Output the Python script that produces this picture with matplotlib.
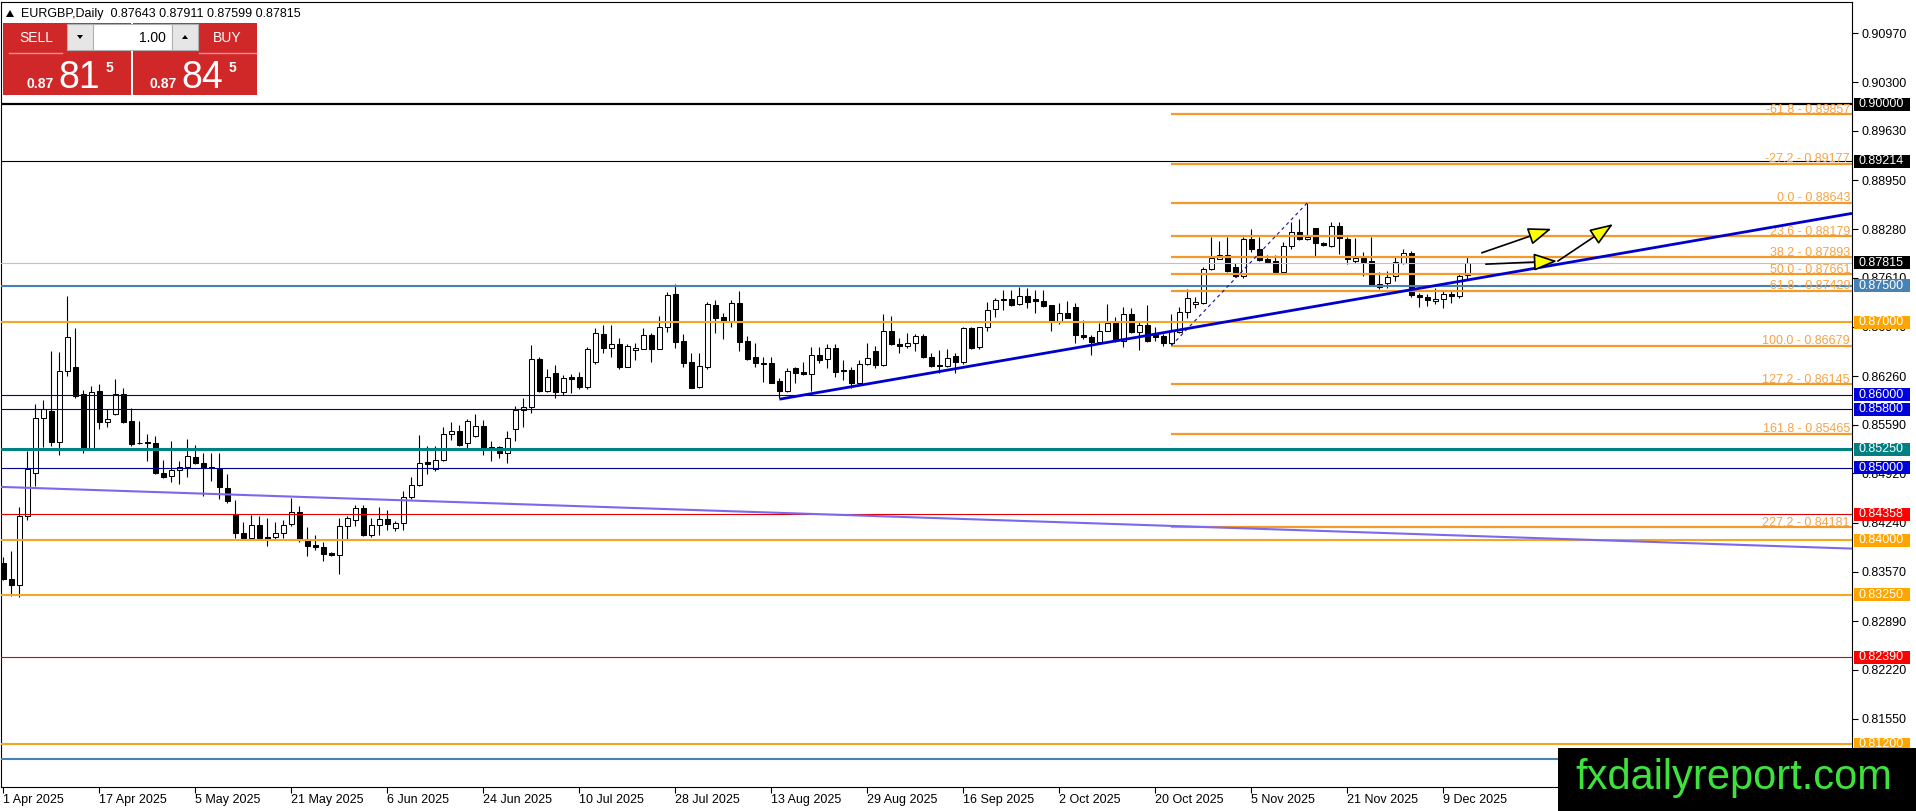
import matplotlib.pyplot as plt
import matplotlib.transforms as mtransforms
from matplotlib.patches import Rectangle, Polygon

plt.rcParams['font.family'] = ['Liberation Sans', 'DejaVu Sans']

# ---------------- data (EURGBP daily) ----------------
opens = [
    0.83688, 0.83468, 0.83385, 0.84338, 0.84924, 0.85680, 0.85785, 0.85359, 0.86326, 0.86381,
    0.86014, 0.85245, 0.86051, 0.85625, 0.85735, 0.86010, 0.85643, 0.85332, 0.85350, 0.85336,
    0.84929, 0.84883, 0.84965, 0.85002, 0.85144, 0.85062, 0.85007, 0.84988, 0.84718, 0.84343,
    0.84100, 0.84027, 0.84210, 0.84049, 0.84040, 0.84100, 0.84219, 0.84388, 0.84017, 0.83940,
    0.83912, 0.83825, 0.83793, 0.84191, 0.84274, 0.84443, 0.84068, 0.84205, 0.84292, 0.84168,
    0.84233, 0.84590, 0.84755, 0.85075, 0.84979, 0.85103, 0.85460, 0.85501, 0.85336, 0.85437,
    0.85575, 0.85245, 0.85277, 0.85199, 0.85529, 0.85794, 0.85840, 0.86491, 0.86060, 0.86307,
    0.86037, 0.86243, 0.86243, 0.86115, 0.86449, 0.86839, 0.86642, 0.86697, 0.86390, 0.86619,
    0.86637, 0.86821, 0.86637, 0.86940, 0.87388, 0.86743, 0.86450, 0.86106, 0.86381, 0.87237,
    0.87068, 0.87017, 0.87269, 0.86747, 0.86523, 0.86445, 0.86436, 0.86193, 0.86047, 0.86367,
    0.86312, 0.86285, 0.86546, 0.86491, 0.86642, 0.86344, 0.86344, 0.86170, 0.86422, 0.86605,
    0.86413, 0.86880, 0.86697, 0.86675, 0.86711, 0.86812, 0.86519, 0.86414, 0.86404, 0.86537,
    0.86446, 0.86926, 0.86652, 0.86931, 0.87178, 0.87320, 0.87316, 0.87247, 0.87366, 0.87316,
    0.87293, 0.87233, 0.87018, 0.87123, 0.87215, 0.86817, 0.86794, 0.86734, 0.86885, 0.86986,
    0.86743, 0.87110, 0.86862, 0.86959, 0.86839, 0.86812, 0.86720, 0.86862, 0.87146, 0.87247,
    0.87270, 0.87728, 0.87870, 0.87920, 0.87765, 0.87636, 0.88140, 0.88012, 0.87865, 0.87847,
    0.87687, 0.88049, 0.88236, 0.88149, 0.88296, 0.88094, 0.88053, 0.88323, 0.88145, 0.87847,
    0.87879, 0.87847, 0.87490, 0.87536, 0.87636, 0.87820, 0.87948, 0.87375, 0.87343, 0.87297,
    0.87316, 0.87384, 0.87362, 0.87643,
]
highs = [
    0.83770, 0.83857, 0.84457, 0.85222, 0.85872, 0.85932, 0.86605, 0.86587, 0.87361, 0.86917,
    0.86069, 0.86129, 0.86147, 0.85804, 0.86225, 0.86097, 0.85822, 0.85643, 0.85465, 0.85433,
    0.85103, 0.85364, 0.85094, 0.85391, 0.85314, 0.85204, 0.85204, 0.85204, 0.84910, 0.84558,
    0.84251, 0.84343, 0.84329, 0.84306, 0.84246, 0.84283, 0.84585, 0.84475, 0.84178, 0.84077,
    0.83972, 0.83834, 0.84306, 0.84329, 0.84489, 0.84489, 0.84306, 0.84457, 0.84420, 0.84260,
    0.84672, 0.84869, 0.85451, 0.85291, 0.85300, 0.85565, 0.85625, 0.85588, 0.85671, 0.85739,
    0.85657, 0.85373, 0.85291, 0.85506, 0.85849, 0.85955, 0.86688, 0.86518, 0.86353, 0.86413,
    0.86275, 0.86289, 0.86321, 0.86655, 0.86917, 0.86963, 0.86963, 0.86779, 0.86701, 0.86720,
    0.86917, 0.86848, 0.87086, 0.87421, 0.87526, 0.86839, 0.86582, 0.86573, 0.87283, 0.87306,
    0.87123, 0.87306, 0.87430, 0.86811, 0.86711, 0.86527, 0.86518, 0.86239, 0.86367, 0.86390,
    0.86459, 0.86656, 0.86665, 0.86697, 0.86697, 0.86482, 0.86381, 0.86482, 0.86720, 0.86679,
    0.87109, 0.87091, 0.86780, 0.86849, 0.86839, 0.86839, 0.86574, 0.86620, 0.86629, 0.86574,
    0.86940, 0.86940, 0.86940, 0.87284, 0.87330, 0.87444, 0.87444, 0.87490, 0.87467, 0.87444,
    0.87444, 0.87238, 0.87261, 0.87293, 0.87261, 0.87032, 0.86817, 0.86986, 0.87252, 0.87068,
    0.87206, 0.87201, 0.87009, 0.87238, 0.86931, 0.86839, 0.87110, 0.87206, 0.87453, 0.87352,
    0.87755, 0.88177, 0.88117, 0.88168, 0.87820, 0.88168, 0.88278, 0.88168, 0.87925, 0.87925,
    0.88108, 0.88383, 0.88415, 0.88643, 0.88300, 0.88108, 0.88374, 0.88383, 0.88168, 0.88163,
    0.87971, 0.88168, 0.87696, 0.87705, 0.87911, 0.88003, 0.87980, 0.87398, 0.87384, 0.87467,
    0.87444, 0.87444, 0.87682, 0.87911,
]
lows = [
    0.83459, 0.83230, 0.83216, 0.84274, 0.84741, 0.85277, 0.85291, 0.85167, 0.86262, 0.85964,
    0.85208, 0.85236, 0.85533, 0.85565, 0.85726, 0.85620, 0.85291, 0.85323, 0.85085, 0.84915,
    0.84851, 0.84796, 0.84773, 0.84878, 0.85048, 0.84604, 0.84810, 0.84567, 0.84512, 0.84031,
    0.84017, 0.84027, 0.84017, 0.83917, 0.84017, 0.84027, 0.84201, 0.83972, 0.83779, 0.83871,
    0.83711, 0.83779, 0.83536, 0.84017, 0.84201, 0.84063, 0.84045, 0.84077, 0.84146, 0.84123,
    0.84146, 0.84567, 0.84741, 0.84915, 0.84956, 0.85098, 0.85382, 0.85291, 0.85245, 0.85428,
    0.85176, 0.85098, 0.85130, 0.85062, 0.85368, 0.85552, 0.85758, 0.86046, 0.86046, 0.85955,
    0.86001, 0.86033, 0.86078, 0.86078, 0.86426, 0.86582, 0.86518, 0.86353, 0.86381, 0.86482,
    0.86628, 0.86450, 0.86628, 0.86871, 0.86642, 0.86390, 0.86092, 0.86097, 0.86353, 0.86848,
    0.86775, 0.86940, 0.86610, 0.86482, 0.86390, 0.86184, 0.86161, 0.85955, 0.86037, 0.86170,
    0.86276, 0.86060, 0.86436, 0.86367, 0.86253, 0.86207, 0.86092, 0.86152, 0.86413, 0.86367,
    0.86399, 0.86688, 0.86583, 0.86643, 0.86610, 0.86505, 0.86381, 0.86308, 0.86381, 0.86308,
    0.86427, 0.86638, 0.86629, 0.86885, 0.87078, 0.87169, 0.87224, 0.87238, 0.87192, 0.87133,
    0.87215, 0.86872, 0.86977, 0.87055, 0.86720, 0.86766, 0.86542, 0.86720, 0.86872, 0.86734,
    0.86656, 0.86849, 0.86620, 0.86734, 0.86748, 0.86675, 0.86679, 0.86849, 0.87055, 0.87192,
    0.87252, 0.87719, 0.87865, 0.87691, 0.87618, 0.87604, 0.87971, 0.87847, 0.87810, 0.87678,
    0.87678, 0.88003, 0.88131, 0.88131, 0.87911, 0.88049, 0.88039, 0.87939, 0.87801, 0.87820,
    0.87636, 0.87499, 0.87453, 0.87467, 0.87572, 0.87801, 0.87352, 0.87206, 0.87224, 0.87247,
    0.87192, 0.87261, 0.87330, 0.87599,
]
closes = [
    0.83468, 0.83385, 0.84338, 0.84979, 0.85680, 0.85804, 0.85359, 0.86326, 0.86793, 0.85991,
    0.85245, 0.86046, 0.85625, 0.85666, 0.86010, 0.85634, 0.85323, 0.85341, 0.85332, 0.84924,
    0.84878, 0.84965, 0.85002, 0.85158, 0.85062, 0.85002, 0.84993, 0.84732, 0.84535, 0.84100,
    0.84027, 0.84210, 0.84027, 0.84017, 0.84100, 0.84210, 0.84388, 0.84008, 0.83917, 0.83907,
    0.83816, 0.83793, 0.84196, 0.84306, 0.84443, 0.84068, 0.84205, 0.84292, 0.84223, 0.84233,
    0.84590, 0.84755, 0.85062, 0.85052, 0.85103, 0.85460, 0.85497, 0.85318, 0.85643, 0.85575,
    0.85245, 0.85277, 0.85199, 0.85405, 0.85794, 0.85840, 0.86491, 0.86060, 0.86252, 0.86037,
    0.86230, 0.86225, 0.86115, 0.86628, 0.86848, 0.86642, 0.86697, 0.86390, 0.86669, 0.86642,
    0.86821, 0.86637, 0.86930, 0.87375, 0.86734, 0.86445, 0.86101, 0.86395, 0.87251, 0.87059,
    0.87022, 0.87269, 0.86734, 0.86495, 0.86445, 0.86431, 0.86170, 0.86047, 0.86330, 0.86308,
    0.86285, 0.86546, 0.86482, 0.86642, 0.86321, 0.86326, 0.86170, 0.86422, 0.86505, 0.86413,
    0.86880, 0.86697, 0.86675, 0.86720, 0.86812, 0.86519, 0.86391, 0.86391, 0.86505, 0.86446,
    0.86917, 0.86647, 0.86931, 0.87169, 0.87307, 0.87302, 0.87238, 0.87366, 0.87284, 0.87293,
    0.87229, 0.87018, 0.87123, 0.87064, 0.86817, 0.86794, 0.86734, 0.86885, 0.86986, 0.86743,
    0.87110, 0.86862, 0.86959, 0.86748, 0.86803, 0.86720, 0.86872, 0.87146, 0.87330, 0.87275,
    0.87728, 0.87879, 0.87925, 0.87705, 0.87636, 0.88140, 0.88012, 0.87856, 0.87833, 0.87687,
    0.88049, 0.88236, 0.88149, 0.88177, 0.88085, 0.88062, 0.88323, 0.88154, 0.87865, 0.87879,
    0.87833, 0.87513, 0.87522, 0.87618, 0.87824, 0.87948, 0.87375, 0.87343, 0.87307, 0.87316,
    0.87384, 0.87362, 0.87636, 0.87815,
]

date_labels = ["1 Apr 2025", "17 Apr 2025", "5 May 2025", "21 May 2025", "6 Jun 2025",
               "24 Jun 2025", "10 Jul 2025", "28 Jul 2025", "13 Aug 2025", "29 Aug 2025",
               "16 Sep 2025", "2 Oct 2025", "20 Oct 2025", "5 Nov 2025", "21 Nov 2025",
               "9 Dec 2025"]
date_bars = [0, 12, 24, 36, 48, 60, 72, 84, 96, 108, 120, 132, 144, 156, 168, 180]

axis_ticks = [0.90970, 0.90300, 0.89630, 0.88950, 0.88280, 0.87610, 0.86940, 0.86260,
              0.85590, 0.84920, 0.84240, 0.83570, 0.82890, 0.82220, 0.81550, 0.80880]

# horizontal levels: price, line colour, line width, label box colour
levels = [
    (0.90000, 'black', 1.6, 'black'),
    (0.89214, 'black', 0.8, 'black'),
    (0.87815, '#C0C0C0', 0.8, 'black'),
    (0.87500, '#4682B4', 1.5, '#4682B4'),
    (0.87000, '#F5A623', 1.5, '#FFA500'),
    (0.86000, '#00008B', 0.8, '#0000DD'),
    (0.85800, '#00008B', 0.8, '#0000DD'),
    (0.85250, '#008080', 2.2, '#008080'),
    (0.85000, '#00008B', 0.8, '#0000DD'),
    (0.84358, '#E00000', 0.8, '#FF0000'),
    (0.84000, '#F5A623', 1.5, '#FFA500'),
    (0.83250, '#F5A623', 1.5, '#FFA500'),
    (0.82390, '#E00000', 0.8, '#FF0000'),
    (0.81200, '#F5A623', 1.5, '#FFA500'),
    (0.81000, '#4682B4', 1.5, '#4682B4'),
]

fib_pcts = [-61.8, -27.2, 0.0, 23.6, 38.2, 50.0, 61.8, 100.0, 127.2, 161.8, 227.2]
fib_vals = [0.89857, 0.89177, 0.88643, 0.88179, 0.87893, 0.87661, 0.87429, 0.86679,
            0.86145, 0.85465, 0.84181]
fib_start = 146
fib_swing = [(146, 0.86679), (163, 0.88643)]

trend_up = [(97, 0.85941), (183, 0.87580)]
trend_down = [(0, 0.84734), (183, 0.84063)]

arrows = [((184.8, 0.87954), (193.5, 0.88284)),
          ((185.3, 0.87798), (194.2, 0.87840)),
          ((194.3, 0.87840), (201.2, 0.88349))]

# ---------------- figure ----------------
W, H = 1916, 811
fig = plt.figure(figsize=(W / 100, H / 100), dpi=100)
ax = fig.add_axes([1 / W, (H - 787) / H, 1851 / W, 785 / H])
x0, x1 = -0.3, 231.07
ax.set_xlim(x0, x1)
ax.set_ylim(0.806088, 0.914025)
px_y = (0.914025 - 0.806088) / 785
ax_w = 1851
blend = mtransforms.blended_transform_factory(ax.transAxes, ax.transData)

# candles
bars = list(range(len(opens)))
ax.vlines(bars, lows, highs, color='black', lw=0.8, zorder=3)
bottoms = [min(o, c) for o, c in zip(opens, closes)]
heights = [abs(c - o) for o, c in zip(opens, closes)]
fills = ['black' if c < o else 'white' for o, c in zip(opens, closes)]
ax.bar(bars, heights, bottom=bottoms, width=0.6, color=fills,
       edgecolor='black', linewidth=0.75, zorder=4)

# horizontal levels and their price boxes
for price, lc, lw, box in levels:
    ax.axhline(price, color=lc, lw=lw, zorder=5)
    ax.add_patch(Rectangle((1 + 2 / ax_w, price - 6.5 * px_y), 56 / ax_w, 13 * px_y,
                           transform=blend, fc=box, ec='none', clip_on=False, zorder=7))
    ax.text(1 + 7 / ax_w, price, f"{price:.5f}", transform=blend, ha='left', va='center',
            color='white', fontsize=9, clip_on=False, zorder=8)

# fibonacci levels
for pct, val in zip(fib_pcts, fib_vals):
    ax.hlines(val, fib_start, x1, color='#F39A2B', lw=1.6, zorder=5)
    ax.text(1 - 2 / ax_w, val + 1.5 * px_y, f"{pct:.1f} - {val:.5f}", transform=blend,
            ha='right', va='baseline', color='#F4A447', fontsize=9, zorder=6)
ax.plot(*zip(*fib_swing), color='#1010A0', lw=0.8, ls=(0, (3, 3)), zorder=5)

# trend lines
(ta, pa), (tb, pb) = trend_up
slope = (pb - pa) / (tb - ta)
ax.plot([ta, x1], [pa, pa + slope * (x1 - ta)], color='#0000CD', lw=2.0, zorder=6,
        solid_capstyle='butt')
ax.axline(trend_down[0], trend_down[1], color='#7B68EE', lw=1.5, zorder=5)

# arrows
for start, end in arrows:
    ax.annotate('', xy=end, xytext=start, annotation_clip=False, zorder=7,
                arrowprops=dict(arrowstyle='-|>,head_length=0.8,head_width=0.3',
                                mutation_scale=18, fc='#FFFF00', ec='black', lw=1.2,
                                shrinkA=0, shrinkB=0))

# axes styling
ax.yaxis.tick_right()
ax.set_yticks(axis_ticks)
ax.set_yticklabels([f"{v:.5f}" for v in axis_ticks])
ax.tick_params(axis='y', length=4, width=0.8, pad=3, labelsize=9, colors='black')
ax.set_xticks(date_bars)
ax.set_xticklabels(date_labels)
ax.tick_params(axis='x', length=4, width=0.8, pad=1, labelsize=9)
for lab in ax.get_xticklabels():
    lab.set_horizontalalignment('left')
for sp in ax.spines.values():
    sp.set_color('black')
    sp.set_linewidth(0.8)

# ---------------- overlay: trade panel, header, watermark ----------------
ov = fig.add_axes([0, 0, 1, 1])
ov.set_zorder(10)
ov.set_xlim(0, W)
ov.set_ylim(H, 0)
ov.axis('off')

ov.add_patch(Polygon([(6, 17), (14, 17), (10, 10)], fc='black', ec='none'))
ov.text(21, 13.5, "EURGBP,Daily  0.87643 0.87911 0.87599 0.87815", fontsize=9,
        va='center', ha='left', color='black')

red = '#D02828'
ov.add_patch(Rectangle((3, 23), 128, 72, fc=red, ec='none'))
ov.add_patch(Rectangle((133, 23), 124, 72, fc=red, ec='none'))
ov.plot([9, 62], [52.5, 52.5], color='#F29090', lw=1)
ov.plot([199, 256], [52.5, 52.5], color='#F29090', lw=1)
ov.add_patch(Rectangle((67, 24), 26, 26, fc='#E6E6E6', ec='#B0B0B0', lw=0.8))
ov.add_patch(Rectangle((93, 24), 79, 26, fc='white', ec='#B0B0B0', lw=0.8))
ov.add_patch(Rectangle((172, 24), 26, 26, fc='#E6E6E6', ec='#B0B0B0', lw=0.8))
ov.add_patch(Polygon([(77, 35), (83, 35), (80, 39)], fc='black', ec='none'))
ov.add_patch(Polygon([(182, 39), (188, 39), (185, 35)], fc='black', ec='none'))
ov.text(166, 37.5, "1.00", fontsize=10, ha='right', va='center', color='black')
ov.text(36, 38, "SELL", fontsize=10, ha='center', va='center', color='white')
ov.text(227, 38, "BUY", fontsize=10, ha='center', va='center', color='white')

for xs, big in [(27, "81"), (150, "84")]:
    ov.text(xs, 88, "0.87", fontsize=10, fontweight='bold', color='white', va='baseline')
    ov.text(xs + 31, 88, big, fontsize=27, color='white', va='baseline')
    ov.text(xs + 79, 72, "5", fontsize=10, fontweight='bold', color='white', va='baseline')

ov.add_patch(Rectangle((1558, 748), 358, 63, fc='black', ec='none'))
ov.text(1575, 789, "fxdailyreport.com", fontsize=30, color='#3DE23D', va='baseline')

fig.savefig('out.png', dpi=100)
